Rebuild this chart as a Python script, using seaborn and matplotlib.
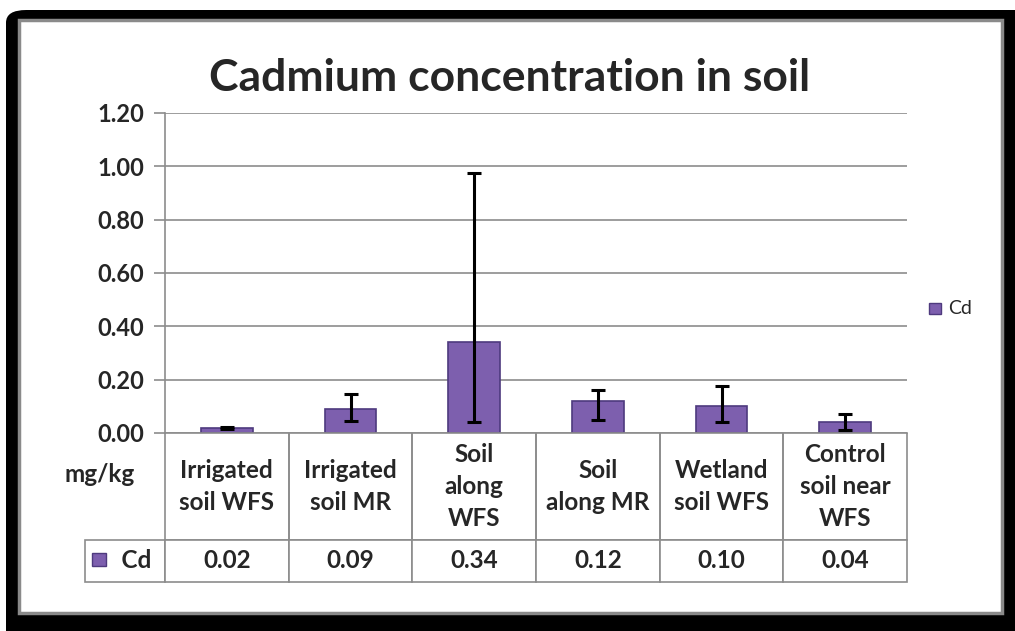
import numpy as np
import seaborn as sns
import matplotlib.pyplot as plt
from matplotlib.patches import FancyBboxPatch, Rectangle

sites = ["Irrigated\nsoil WFS", "Irrigated\nsoil MR", "Soil\nalong\nWFS",
         "Soil\nalong MR", "Wetland\nsoil WFS", "Control\nsoil near\nWFS"]
cd_values = [0.02, 0.09, 0.34, 0.12, 0.10, 0.04]
err_low = [0.004, 0.045, 0.30, 0.07, 0.06, 0.03]
err_high = [0.004, 0.055, 0.635, 0.04, 0.075, 0.03]
value_labels = ["0.02", "0.09", "0.34", "0.12", "0.10", "0.04"]
yticks = [0.0, 0.2, 0.4, 0.6, 0.8, 1.0, 1.2]

sns.set_style("white")
plt.rcParams["font.family"] = ["Lato", "DejaVu Sans"]

W, H = 1015, 631
fig = plt.figure(figsize=(W / 100, H / 100), dpi=100, facecolor="white")

# black frame + white panel
fig.patches.append(FancyBboxPatch((6 / W, -0.1), 1.2, 1 - 10 / H + 0.1, transform=fig.transFigure,
                                  boxstyle="round,pad=0,rounding_size=0.02",
                                  facecolor="black", edgecolor="none", zorder=-3))
fig.patches.append(Rectangle((19 / W, 1 - 613 / H), (1002 - 19) / W, (613 - 20) / H,
                             transform=fig.transFigure, facecolor="white",
                             edgecolor="#8a8a8a", linewidth=2.5, zorder=-2))

ax = fig.add_axes([165 / W, 1 - 433 / H, (907 - 165) / W, 320 / H])
ax.set_facecolor("none")

bar_color = "#7D5FAE"
edge_color = "#4E3A7E"
sns.barplot(x=list(range(len(sites))), y=cd_values, ax=ax, width=0.42,
            color=bar_color, edgecolor=edge_color, linewidth=1.2, saturation=1)
ax.errorbar(range(len(sites)), cd_values, yerr=[err_low, err_high], fmt="none",
            ecolor="black", elinewidth=2.2, capsize=5, capthick=2.2, zorder=5)

ax.set_ylim(0, 1.2)
ax.set_xlim(-0.5, len(sites) - 0.5)
ax.set_yticks(yticks)
ax.set_yticklabels([f"{t:.2f}" for t in yticks], fontsize=17, fontweight="bold")
ax.yaxis.grid(True, color="#8c8c8c", linewidth=1.2)
ax.set_axisbelow(True)
ax.tick_params(axis="y", length=8, width=1.2, color="#8c8c8c", pad=7, left=True)
ax.set_xticks([])
ax.set_xlabel("")
for s in ["top", "right"]:
    ax.spines[s].set_visible(False)
for s in ["left", "bottom"]:
    ax.spines[s].set_color("#8c8c8c")
    ax.spines[s].set_linewidth(1.2)
ax.set_title("Cadmium concentration in soil", fontsize=32, fontweight="bold",
             pad=16, x=0.465)

# data table below the axis (first column holds the series label)
lab_w = 80 / 742
tbl = ax.table(cellText=[["    Cd"] + value_labels], colLabels=[""] + sites,
               colWidths=[lab_w] + [1 / 6] * 6, cellLoc="center",
               bbox=[-lab_w, -149 / 320, 1 + lab_w, 149 / 320])
tbl.auto_set_font_size(False)
for (r, c), cell in tbl.get_celld().items():
    cell.set_edgecolor("#8c8c8c")
    cell.set_linewidth(1.2)
    cell.set_height(107 if r == 0 else 42)
    cell.get_text().set_fontsize(17.5)
    cell.get_text().set_fontweight("bold")
    if r == 0:
        cell.get_text().set_linespacing(1.5)
        cell.visible_edges = "BLR" if c > 0 else ""

xt = ax.get_xaxis_transform()
ax.text(-1.03, -0.131, "mg/kg", fontsize=17.5, fontweight="bold",
        ha="center", va="center", transform=xt, clip_on=False)
ax.add_patch(Rectangle((-1.09, -0.416), 0.115, 0.04, transform=xt,
                       facecolor=bar_color, edgecolor=edge_color, clip_on=False))

# legend on the right
ax.add_patch(Rectangle((5.68, 0.373), 0.095, 0.034, transform=xt,
                       facecolor=bar_color, edgecolor=edge_color, clip_on=False))
ax.text(5.83, 0.39, "Cd", fontsize=14, ha="left", va="center",
        transform=xt, clip_on=False)

fig.savefig("out.png", dpi=100, facecolor=fig.get_facecolor())
